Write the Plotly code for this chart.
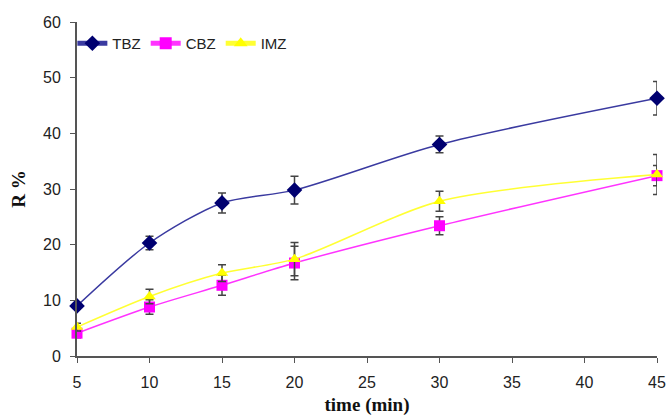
import plotly.graph_objects as go

time_min = [5, 10, 15, 20, 30, 45]
tbz = [9.0, 20.3, 27.5, 29.8, 38.0, 46.3]
tbz_err = [0.6, 1.2, 1.8, 2.5, 1.5, 3.0]
cbz = [4.1, 8.8, 12.7, 16.7, 23.4, 32.4]
cbz_err = [0.8, 1.3, 1.8, 3.0, 1.6, 1.8]
imz = [5.2, 10.7, 14.9, 17.4, 27.8, 32.6]
imz_err = [0.7, 1.3, 1.5, 3.0, 1.8, 3.6]

x_ticks = [5, 10, 15, 20, 25, 30, 35, 40, 45]
y_ticks = [0, 10, 20, 30, 40, 50, 60]

fig = go.Figure()

def add(name, y, err, line_color, marker_color, symbol, size):
    fig.add_trace(go.Scatter(
        x=time_min, y=y, name=name, mode="lines+markers",
        line=dict(color=line_color, width=1.5, shape="spline", smoothing=0.8),
        marker=dict(color=marker_color, symbol=symbol, size=size),
        error_y=dict(type="data", array=err, visible=True, color="#444444",
                     thickness=1.5, width=4),
        cliponaxis=False,
    ))

add("TBZ", tbz, tbz_err, "#3a3aa0", "#000070", "diamond", 12)
add("CBZ", cbz, cbz_err, "#ff33ff", "#ff00ff", "square", 11)
add("IMZ", imz, imz_err, "#ffff33", "#ffff00", "triangle-up", 11)

serif = "Liberation Serif, Times New Roman, serif"
fig.update_layout(
    width=670, height=416,
    margin=dict(l=77, r=13, t=22, b=60, autoexpand=False),
    paper_bgcolor="white", plot_bgcolor="white",
    font=dict(family="Liberation Sans, Arial, sans-serif", size=16, color="#222222"),
    showlegend=True,
    legend=dict(orientation="h", x=-0.008, y=0.985, xanchor="left", yanchor="top",
                bgcolor="rgba(0,0,0,0)", font=dict(size=15, color="#222222"),
                itemwidth=30, tracegroupgap=0, itemsizing="constant"),
    xaxis=dict(range=[5, 45], tickvals=x_ticks, showgrid=False, zeroline=False,
               showline=True, linecolor="#555555", linewidth=2,
               ticks="outside", ticklen=5, tickcolor="#555555",
               ticklabelstandoff=6, automargin=False,
               title=dict(text="<b>time (min)</b>",
                          font=dict(family=serif, size=19, color="#111111"),
                          standoff=10)),
    yaxis=dict(range=[0, 60], tickvals=y_ticks, showgrid=False, zeroline=False,
               showline=True, linecolor="#555555", linewidth=2,
               ticks="outside", ticklen=5, tickcolor="#555555",
               ticklabelstandoff=6, automargin=False,
               title=dict(text="<b>R %</b>",
                          font=dict(family=serif, size=19, color="#111111"),
                          standoff=12)),
)

fig.write_html("out.html")
